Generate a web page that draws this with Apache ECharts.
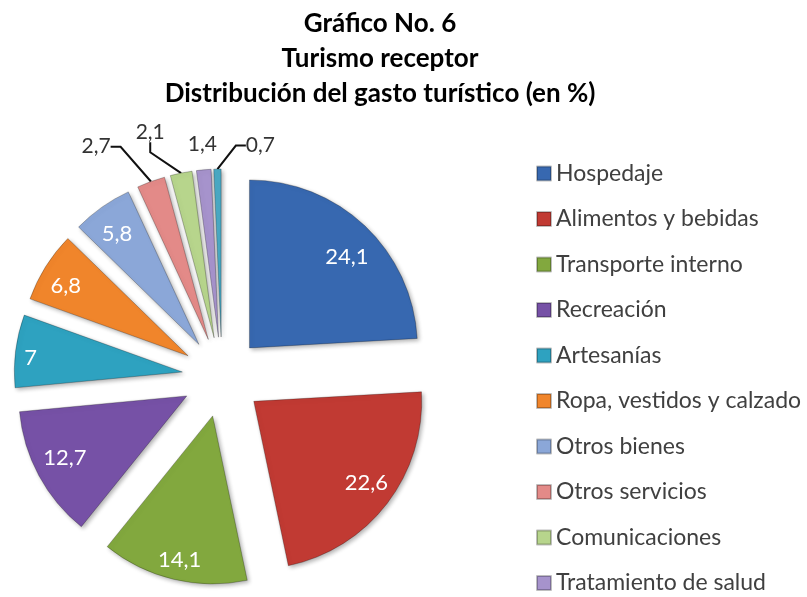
<!DOCTYPE html>
<html><head><meta charset="utf-8">
<script src="https://cdn.jsdelivr.net/npm/echarts@6/dist/echarts.min.js"></script>
<style>html,body{margin:0;padding:0;background:#fff}#c{width:807px;height:597px}</style>
</head><body><div id="c"></div>
<script>
const titleLines = ['Gráfico No. 6', 'Turismo receptor', 'Distribución del gasto turístico (en %)'];
const categories = ['Hospedaje', 'Alimentos y bebidas', 'Transporte interno', 'Recreación', 'Artesanías',
  'Ropa, vestidos y calzado', 'Otros bienes', 'Otros servicios', 'Comunicaciones', 'Tratamiento de salud', 'Otros'];
const values = [24.1, 22.6, 14.1, 12.7, 7, 6.8, 5.8, 2.7, 2.1, 1.4, 0.7];
const legendCategories = categories.slice(0, 10);
const colors = ['#3768b0', '#c13a33', '#82a83e', '#7651a6', '#2ea2c0', '#f0852b', '#8ba7d8', '#e38a88', '#b7d58c', '#a693cc', '#4aa9c4'];
// label nudges (px): outside labels relative to the top-centre of their slice, inside labels relative to the radial position
const outsideLabelShift = {7: [-77, -30], 8: [-42, -39], 9: [-5, -25], 10: [43, -23]};
const insideLabelShift = {0: [0, 12], 1: [0, -5], 2: [0, 6], 3: [3, -5], 4: [-11, 4], 5: [-2, 5], 6: [0, 5]};
const hiddenLeader = {9: true};

const FONT = 'Lato';
const PIE_CENTER = [222, 377];
const PIE_RADIUS = 168;
const EXPLODE = 40;
const INSIDE_LABEL_R = 137;

const fmt = v => String(v).replace('.', ',');
const total = values.reduce((a, b) => a + b, 0);
const isSmall = v => v < 5;

const series = [];
let cum = 0;
values.forEach((v, i) => {
  const startAngle = 90 - 360 * cum / total;
  const mid = 2 * Math.PI * (cum + v / 2) / total;
  cum += v;
  const c = [PIE_CENTER[0] + EXPLODE * Math.sin(mid), PIE_CENTER[1] - EXPLODE * Math.cos(mid)];
  const small = isSmall(v);
  series.push({
    type: 'pie',
    center: c,
    radius: PIE_RADIUS,
    startAngle: startAngle,
    clockwise: true,
    avoidLabelOverlap: false,
    emphasis: {disabled: true},
    itemStyle: {color: colors[i], borderColor: 'rgba(0,0,0,0.25)', borderWidth: 1, shadowBlur: 4, shadowColor: 'rgba(0,0,0,0.3)', shadowOffsetX: 2, shadowOffsetY: 2},
    label: small
      ? {position: 'outside', formatter: p => fmt(p.value), fontFamily: FONT, fontSize: 21, color: '#333'}
      : {position: 'inside', formatter: p => fmt(p.value), fontFamily: FONT, fontSize: 22, color: '#fff'},
    labelLine: {show: small && !hiddenLeader[i], length: 12, length2: 10, minTurnAngle: 60, lineStyle: {color: '#111', width: 2}},
    labelLayout: function (p) {
      if (p.dataIndex !== 0) return {};
      if (small) {
        const s = outsideLabelShift[i];
        return {x: p.rect.x + p.rect.width / 2 + s[0], y: p.rect.y + s[1], align: 'center', verticalAlign: 'middle'};
      }
      const s = insideLabelShift[i] || [0, 0];
      const lx = p.labelRect.x + p.labelRect.width / 2, ly = p.labelRect.y + p.labelRect.height / 2;
      const k = INSIDE_LABEL_R / (PIE_RADIUS / 2);
      return {x: c[0] + (lx - c[0]) * k + s[0], y: c[1] + (ly - c[1]) * k + s[1], align: 'center', verticalAlign: 'middle'};
    },
    data: [
      {name: categories[i], value: v},
      {name: '', value: total - v, itemStyle: {color: 'rgba(0,0,0,0)', borderWidth: 0, shadowBlur: 0, shadowColor: 'rgba(0,0,0,0)'},
        label: {show: false}, labelLine: {show: false}, silent: true}
    ]
  });
});

const chart = echarts.init(document.getElementById('c'), null, {renderer: 'canvas'});
chart.setOption({
  animation: false,
  backgroundColor: '#fff',
  title: {
    text: titleLines.join('\n'),
    left: 380, top: 6, padding: 0, textAlign: 'center',
    textStyle: {fontFamily: FONT, fontWeight: 'bold', fontSize: 26, lineHeight: 35, color: '#000'}
  },
  legend: {
    orient: 'vertical', left: 536, top: 162, height: 434, padding: 0,
    data: legendCategories,
    itemWidth: 14, itemHeight: 14, itemGap: 22.5,
    icon: 'rect',
    textStyle: {fontFamily: FONT, fontSize: 23, color: '#404040'},
    selectedMode: false
  },
  series: series
});
</script></body></html>
